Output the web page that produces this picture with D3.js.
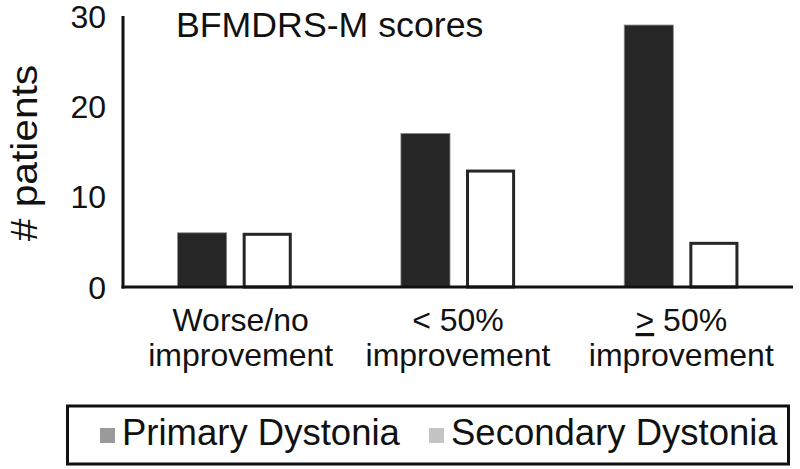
<!DOCTYPE html>
<html><head><meta charset="utf-8">
<script src="https://cdn.jsdelivr.net/npm/d3@7"></script>
<style>body{margin:0;background:#fff}svg{display:block}text{font-family:"Liberation Sans",Arial,sans-serif;fill:#111}</style>
</head><body>
<script>
const categories = ["worse", "lt50", "ge50"];
const categoryLines = [["Worse/no", "improvement"], ["< 50%", "improvement"], ["\u2265 50%", "improvement"]];
const series = ["Primary Dystonia", "Secondary Dystonia"];
const primaryValues = [6, 17, 29];
const secondaryValues = [6, 13, 5];
const yTicks = [0, 10, 20, 30];
const title = "BFMDRS-M scores";
const yLabel = "# patients";

const W = 800, H = 469;
const svg = d3.select("body").append("svg").attr("width", W).attr("height", H);

const x0 = d3.scaleBand().domain(categories).range([123, 793]).padding(0);
const x1 = d3.scaleBand().domain(series).range([0, x0.bandwidth()]).paddingInner(0.246).paddingOuter(0.838);
const y = d3.scaleLinear().domain([0, 30]).range([287, 16]);

const valuesBySeries = {"Primary Dystonia": primaryValues, "Secondary Dystonia": secondaryValues};

// bars
categories.forEach((c, i) => {
  series.forEach(s => {
    const v = valuesBySeries[s][i];
    const primary = s === series[0];
    svg.append("rect")
      .attr("x", x0(c) + x1(s) + (primary ? 0 : 1.5))
      .attr("y", y(v) + (primary ? 0 : 1.5))
      .attr("width", x1.bandwidth() - (primary ? 0 : 3))
      .attr("height", y(0) - y(v) - (primary ? 0 : 1.5))
      .attr("fill", primary ? "#262626" : "#fff")
      .attr("stroke", primary ? "#8a8a8a" : "#262626")
      .attr("stroke-width", primary ? 0.8 : 3);
  });
});

// axes lines
svg.append("line").attr("x1", 123).attr("x2", 123).attr("y1", y(30)).attr("y2", y(0) + 1.5)
  .attr("stroke", "#111").attr("stroke-width", 3);
svg.append("line").attr("x1", 121.5).attr("x2", 793).attr("y1", y(0)).attr("y2", y(0))
  .attr("stroke", "#111").attr("stroke-width", 3);

// y ticks labels
svg.selectAll(".yt").data(yTicks).enter().append("text")
  .attr("x", 106).attr("y", d => y(d)).attr("dy", "0.36em")
  .attr("text-anchor", "end").attr("font-size", 32).text(d => d);

// y label
svg.append("text").attr("transform", "translate(37,153) rotate(-90) scale(1.1,1)")
  .attr("text-anchor", "middle").attr("font-size", 37).text(yLabel);

// title
svg.append("text").attr("x", 176).attr("y", 37).attr("font-size", 35.7).text(title);

// category labels
categories.forEach((c, i) => {
  const cx = x0(c) + x0.bandwidth() / 2 + (i === 0 ? 6 : 0);
  const lines = categoryLines[i];
  lines.forEach((ln, j) => {
    const t = svg.append("text").attr("x", cx).attr("y", 331 + j * 35)
      .attr("text-anchor", "middle").attr("font-size", 32);
    if (ln.startsWith("\u2265")) {
      t.append("tspan").attr("text-decoration", "underline").text(">");
      t.append("tspan").text(ln.slice(1));
    } else {
      t.text(ln);
    }
  });
});

// legend
svg.append("rect").attr("x", 67.5).attr("y", 406).attr("width", 721).attr("height", 58)
  .attr("fill", "none").attr("stroke", "#111").attr("stroke-width", 3);
const legendColors = ["#9a9a9a", "#c4c4c4"];
const legendX = [100, 429];
series.forEach((s, i) => {
  svg.append("rect").attr("x", legendX[i]).attr("y", 428).attr("width", 15).attr("height", 15)
    .attr("fill", legendColors[i]);
  svg.append("text").attr("x", legendX[i] + 22).attr("y", 445).attr("font-size", 36.5).text(s);
});
</script>
</body></html>
